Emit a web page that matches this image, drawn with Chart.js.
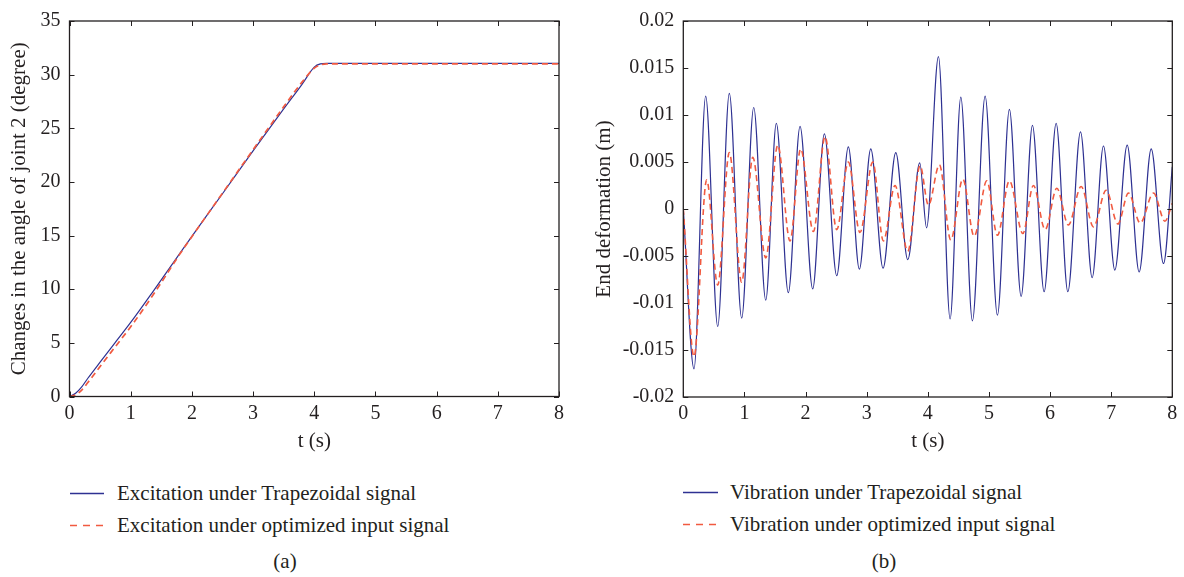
<!DOCTYPE html>
<html>
<head>
<meta charset="utf-8">
<script src="https://cdn.jsdelivr.net/npm/chart.js@4.4.1/dist/chart.umd.min.js"></script>
<style>
  html, body { margin: 0; padding: 0; background: #fff; }
  body { width: 1184px; height: 577px; position: relative; overflow: hidden;
         font-family: "Liberation Serif", "DejaVu Serif", serif; color: #231F20; }
  canvas { position: absolute; }
  .leg { position: absolute; font-size: 21px; line-height: 24px; white-space: nowrap; }
  .leg svg { position: absolute; left: 0; top: 0; }
  .leg span { position: absolute; top: 0; }
  .cap { position: absolute; font-size: 21px; line-height: 24px; transform: translateX(-50%); }
</style>
</head>
<body>
<canvas id="ca" width="575" height="460" style="left:0;top:0;"></canvas>
<canvas id="cb" width="599" height="460" style="left:585px;top:0;"></canvas>

<div class="leg" style="left:70px;top:481px;width:420px;height:24px;">
  <svg width="34" height="24"><line x1="0" y1="12.5" x2="34" y2="12.5" stroke="#2E3192" stroke-width="1.3"/></svg>
  <span style="left:47px;">Excitation under Trapezoidal signal</span>
</div>
<div class="leg" style="left:70px;top:513px;width:420px;height:24px;">
  <svg width="34" height="24"><line x1="0" y1="12.5" x2="34" y2="12.5" stroke="#F15A40" stroke-width="1.5" stroke-dasharray="7,6"/></svg>
  <span style="left:47px;">Excitation under optimized input signal</span>
</div>
<div class="leg" style="left:683px;top:480px;width:420px;height:24px;">
  <svg width="35" height="24"><line x1="0" y1="12.5" x2="35" y2="12.5" stroke="#2E3192" stroke-width="1.3"/></svg>
  <span style="left:47px;">Vibration under Trapezoidal signal</span>
</div>
<div class="leg" style="left:683px;top:512px;width:420px;height:24px;">
  <svg width="35" height="24"><line x1="0" y1="12.5" x2="35" y2="12.5" stroke="#F15A40" stroke-width="1.5" stroke-dasharray="7,6"/></svg>
  <span style="left:47px;">Vibration under optimized input signal</span>
</div>
<div class="cap" style="left:285px;top:549px;">(a)</div>
<div class="cap" style="left:884px;top:549px;">(b)</div>

<script>
// ---------- Data: chart (a) ----------
const timeA      = [0, 0.1, 0.2, 0.3, 0.5, 0.743, 1.0, 1.37, 1.806, 2.0, 2.5, 3.0, 3.5, 3.8, 4.0, 4.1, 4.2, 4.3, 5, 6, 7, 8];
const angleTrap  = [0, 0.3, 0.9, 1.7, 3.2, 5.0, 6.9, 9.83, 13.37, 14.93, 18.9, 22.9, 26.8, 29.1, 30.7, 31.0, 31.05, 31.05, 31.05, 31.05, 31.05, 31.05];
const angleOpt   = [0, 0.15, 0.6, 1.3, 2.8, 4.6, 6.5, 9.5, 13.3, 14.9, 18.95, 23.0, 27.0, 29.3, 30.6, 30.9, 31.0, 31.0, 31.0, 31.0, 31.0, 31.0];
const xTicksA    = [0, 1, 2, 3, 4, 5, 6, 7, 8];
const yTicksA    = [0, 5, 10, 15, 20, 25, 30, 35];

// ---------- Data: chart (b) ----------
const timeBTrap = [0, 0.175, 0.366, 0.563, 0.753, 0.955, 1.152, 1.349, 1.522, 1.718, 1.91, 2.117, 2.308, 2.51, 2.70, 2.88, 3.067, 3.268, 3.476, 3.672, 3.868, 3.98, 4.174, 4.365, 4.54, 4.73, 4.938, 5.139, 5.335, 5.527, 5.712, 5.903, 6.10, 6.291, 6.498, 6.689, 6.874, 7.06, 7.262, 7.458, 7.655, 7.856, 8.0];
const vibTrap   = [0, -0.0170, 0.0120, -0.0125, 0.0123, -0.0116, 0.0108, -0.0097, 0.0091, -0.0089, 0.0088, -0.0085, 0.0080, -0.0071, 0.0066, -0.0064, 0.0064, -0.0063, 0.0060, -0.0054, 0.0049, -0.0020, 0.0162, -0.0117, 0.0119, -0.0119, 0.0120, -0.0113, 0.0106, -0.0093, 0.0089, -0.0088, 0.0091, -0.0088, 0.0082, -0.0073, 0.0067, -0.0065, 0.0068, -0.0067, 0.0064, -0.0058, 0.0045];
const timeBOpt  = [0, 0.175, 0.383, 0.563, 0.753, 0.955, 1.136, 1.349, 1.545, 1.746, 1.92, 2.128, 2.319, 2.51, 2.70, 2.89, 3.10, 3.273, 3.464, 3.672, 3.874, 4.01, 4.19, 4.376, 4.573, 4.758, 4.966, 5.139, 5.335, 5.555, 5.728, 5.92, 6.111, 6.30, 6.509, 6.71, 6.918, 7.11, 7.283, 7.475, 7.692, 7.88, 8.0];
const vibOpt    = [0, -0.0157, 0.0031, -0.0081, 0.0060, -0.0078, 0.0055, -0.0052, 0.0068, -0.0034, 0.0064, -0.0024, 0.0077, -0.0022, 0.0050, -0.0025, 0.0050, -0.0034, 0.0025, -0.0045, 0.0046, 0.0004, 0.0047, -0.0033, 0.0032, -0.0029, 0.0030, -0.0028, 0.0030, -0.0026, 0.0025, -0.0022, 0.0022, -0.0017, 0.0024, -0.0019, 0.0020, -0.0016, 0.0017, -0.0015, 0.0017, -0.0013, 0.0006];
const xTicksB   = [0, 1, 2, 3, 4, 5, 6, 7, 8];
const yTickLabelsB = ['-0.02', '-0.015', '-0.01', '-0.005', '0', '0.005', '0.01', '0.015', '0.02'];

const BLUE = '#2E3192';
const RED = '#F15A40';
const INK = '#231F20';
const FONT = '"Liberation Serif", "DejaVu Serif", serif';

function pts(xs, ys) { return xs.map((x, i) => ({ x: x, y: ys[i] })); }

const frame = {
  id: 'frame',
  afterDraw(chart) {
    const { ctx, chartArea: a, scales } = chart;
    const xs = scales.x, ys = scales.y, L = 5;
    ctx.save();
    ctx.strokeStyle = INK;
    ctx.lineWidth = 1;
    ctx.beginPath();
    xs.ticks.forEach(t => {
      const p = Math.round(xs.getPixelForValue(t.value)) + 0.5;
      ctx.moveTo(p, a.bottom); ctx.lineTo(p, a.bottom - L);
      ctx.moveTo(p, a.top); ctx.lineTo(p, a.top + L);
    });
    ys.ticks.forEach(t => {
      const p = Math.round(ys.getPixelForValue(t.value)) + 0.5;
      ctx.moveTo(a.left, p); ctx.lineTo(a.left + L, p);
      ctx.moveTo(a.right, p); ctx.lineTo(a.right - L, p);
    });
    ctx.stroke();
    ctx.lineWidth = 1.3;
    ctx.strokeRect(a.left, a.top, a.right - a.left, a.bottom - a.top);
    ctx.restore();
  }
};

function makeChart(id, datasets, opts) {
  return new Chart(document.getElementById(id), {
    type: 'line',
    data: { datasets: datasets },
    plugins: [frame],
    options: {
      responsive: false,
      animation: false,
      events: [],
      layout: { padding: { top: opts.padTop, right: opts.padRight, left: 0, bottom: 0 } },
      plugins: { legend: { display: false }, tooltip: { enabled: false } },
      elements: { point: { radius: 0 } },
      scales: {
        x: {
          type: 'linear', min: 0, max: 8,
          afterBuildTicks: s => { s.ticks = opts.xTicks.map(v => ({ value: v })); },
          afterFit: s => { s.height = opts.xHeight; },
          grid: { display: false, drawTicks: false },
          border: { display: false },
          ticks: { color: INK, font: { family: FONT, size: 20 }, padding: 5, maxRotation: 0,
                   callback: v => String(v) },
          title: { display: true, text: 't (s)', color: INK, font: { family: FONT, size: 21 }, padding: { top: 0, bottom: 6 } }
        },
        y: {
          type: 'linear', min: opts.yMin, max: opts.yMax,
          afterBuildTicks: s => { s.ticks = opts.yTicks.map(v => ({ value: v })); },
          afterFit: s => { s.width = opts.yWidth; },
          grid: { display: false, drawTicks: false },
          border: { display: false },
          ticks: { color: INK, font: { family: FONT, size: 20 }, padding: 9, callback: opts.yCb },
          title: { display: true, text: opts.yTitle, color: INK, font: { family: FONT, size: 21 }, padding: { top: 6.5, bottom: 0 } }
        }
      }
    }
  });
}

makeChart('ca', [
  { label: 'Excitation under optimized input signal', data: pts(timeA, angleOpt), borderColor: RED, borderWidth: 1.7, borderDash: [6, 4], cubicInterpolationMode: 'monotone', fill: false, order: 0 },
  { label: 'Excitation under Trapezoidal signal', data: pts(timeA, angleTrap), borderColor: BLUE, borderWidth: 1.2, cubicInterpolationMode: 'monotone', fill: false, order: 1 }
], {
  padTop: 17.5, padRight: 16, xHeight: 63.5, yWidth: 69.5,
  yMin: 0, yMax: 35, xTicks: xTicksA, yTicks: yTicksA,
  yCb: v => String(v), yTitle: 'Changes in the angle of joint 2 (degree)'
});

makeChart('cb', [
  { label: 'Vibration under optimized input signal', data: pts(timeBOpt, vibOpt), borderColor: RED, borderWidth: 1.6, borderDash: [6, 4], cubicInterpolationMode: 'monotone', fill: false, order: 0 },
  { label: 'Vibration under Trapezoidal signal', data: pts(timeBTrap, vibTrap), borderColor: BLUE, borderWidth: 1.2, cubicInterpolationMode: 'monotone', fill: false, order: 1 }
], {
  padTop: 17.3, padRight: 11.7, xHeight: 63, yWidth: 98.3,
  yMin: -0.02, yMax: 0.02, xTicks: xTicksB, yTicks: yTickLabelsB.map(Number),
  yCb: v => { const i = yTickLabelsB.map(Number).findIndex(n => Math.abs(n - v) < 1e-9); return i >= 0 ? yTickLabelsB[i] : ''; },
  yTitle: 'End deformation (m)'
});
</script>
</body>
</html>
